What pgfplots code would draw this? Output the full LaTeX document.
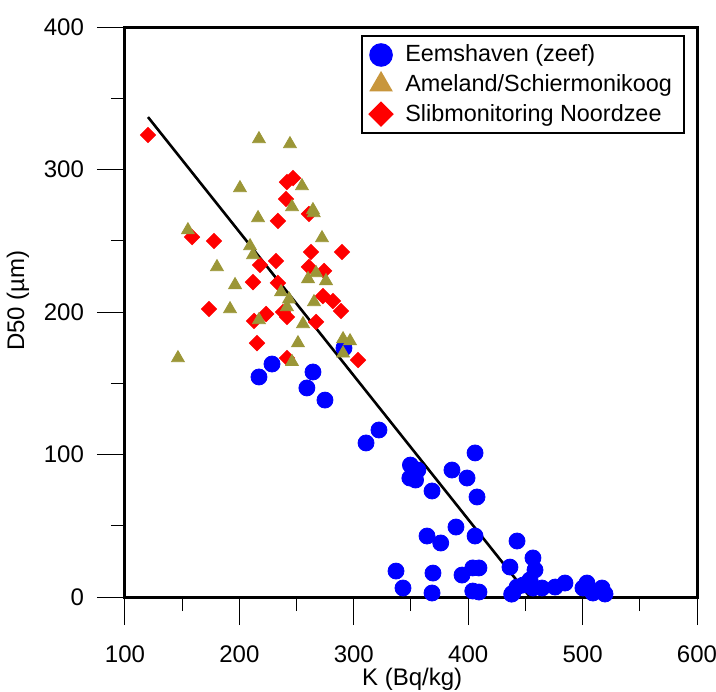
\documentclass[border=0pt]{standalone}
\usepackage{pgfplots}
\pgfplotsset{compat=1.18}
\usepackage{fontspec}
\setmainfont{Liberation Sans}
\definecolor{olivetri}{RGB}{155,150,55}
\definecolor{tantri}{RGB}{200,150,60}
\begin{document}
\begin{tikzpicture}
\begin{axis}[
  scale only axis, width=286pt, height=285pt,
  xmin=100, xmax=600, ymin=0, ymax=400,
  xtick={100,200,...,600}, ytick={0,100,...,400},
  minor tick num=1,
  tick align=outside, xtick pos=bottom, ytick pos=left,
  major tick length=14pt, minor tick length=7pt,
  tick style={black, line width=0.5pt},
  axis line style={line width=1.5pt},
  /pgf/number format/assume math mode=true,
  ticklabel style={font=\fontsize{12}{14}\selectfont},
  xticklabel style={yshift=-7pt},
  yticklabel style={xshift=-3pt},
  xlabel={K (Bq/kg)}, ylabel={D50 (µm)},
  label style={font=\fontsize{12}{14}\selectfont},
  xlabel style={at={(axis description cs:0.502,-0.145)}, anchor=center},
  ylabel style={at={(axis description cs:-0.187,0.52)}, anchor=center},
  clip=false,
  legend cell align=left,
  legend style={at={(1,1)}, anchor=north east, xshift=-6pt, yshift=-4pt,
    draw=black, line width=1pt, font=\fontsize{11.7}{14}\selectfont,
    inner xsep=4pt, inner ysep=2.5pt, row sep=0.8pt, column sep=4.5pt},
]
\coordinate (SW) at (rel axis cs:0,0);
\coordinate (NE) at (rel axis cs:1,1);
\addlegendimage{only marks, mark=*, blue, mark size=5.4pt}
\addlegendentry{Eemshaven (zeef)}
\addlegendimage{only marks, mark=triangle*, tantri, mark size=5.8pt}
\addlegendentry{Ameland/Schiermonikoog}
\addlegendimage{only marks, mark=square*, red, mark size=4pt, mark options={rotate=45}}
\addlegendentry{Slibmonitoring Noordzee}
\addplot[forget plot, only marks, mark=*, blue, mark size=4pt] coordinates {
(217.1,154.4) (228.5,163.5) (259.0,146.7) (264.3,157.9) (274.8,138.2) (291.4,174.7)
(310.7,108.1) (322.0,117.2) (349.5,92.6) (356.0,89.1) (349.0,83.5) (354.0,82.1)
(368.4,74.4) (385.8,89.1) (399.0,83.5) (406.0,101.1) (407.7,70.2) (364.0,42.8)
(376.0,37.9) (389.3,49.1) (406.0,42.8) (336.9,18.2) (343.0,6.3) (369.2,16.8)
(368.4,2.8) (394.6,15.4) (404.0,20.4) (409.4,20.4) (404.0,4.2) (409.4,3.5)
(436.5,21.0) (442.7,39.3) (439.0,2.8) (442.7,7.0) (456.6,27.4) (458.4,19.0)
(454.0,12.0) (448.0,8.4) (456.6,6.3) (464.5,6.3) (476.0,7.0) (484.6,9.8)
(503.8,9.8) (500.3,6.3) (509.0,2.8) (517.0,6.3) (519.6,2.1) (438.0,2.0)
};
\addplot[forget plot, only marks, mark=square*, red, mark size=2.7pt, mark options={rotate=45}] coordinates {
(120.1,324.2) (241.6,291.2) (246.9,294.0) (240.7,279.3) (233.7,263.9) (260.8,268.8)
(158.6,252.6) (177.8,249.8) (262.6,242.1) (289.7,242.1) (232.0,235.8) (218.0,233.0)
(260.8,231.6) (274.0,228.8) (211.9,221.0) (233.7,220.4) (273.0,211.2) (281.8,207.7)
(288.8,200.7) (173.4,202.1) (223.3,198.6) (238.1,200.0) (241.6,196.5) (212.8,193.7)
(267.0,193.0) (215.4,178.2) (241.6,167.7) (303.7,166.3)
};
\addplot[forget plot, only marks, mark=triangle*, olivetri, mark size=3.7pt] coordinates {
(217.1,321.4) (244.2,317.9) (200.5,287.0) (254.7,288.4) (246.0,273.7) (264.3,271.6)
(265.0,269.5) (216.3,266.0) (155.0,257.5) (272.2,251.9) (209.3,246.3) (211.9,240.0)
(180.4,231.6) (267.0,227.4) (260.0,223.2) (275.7,221.8) (196.2,219.0) (236.4,214.0)
(243.4,209.0) (265.2,207.0) (241.6,203.5) (191.8,202.1) (217.1,194.4) (255.6,191.6)
(251.2,178.2) (290.6,181.0) (296.7,179.6) (146.3,167.7) (246.0,165.0) (290.6,171.0)
};
\addplot[forget plot, black, line width=1.3pt] coordinates {(120.1,336.8) (454.0,0)};
\end{axis}
\pgfresetboundingbox
\path[use as bounding box] ([shift={(-62.5pt,-47pt)}]SW) rectangle ([shift={(9.5pt,13.5pt)}]NE);
\end{tikzpicture}
\end{document}
